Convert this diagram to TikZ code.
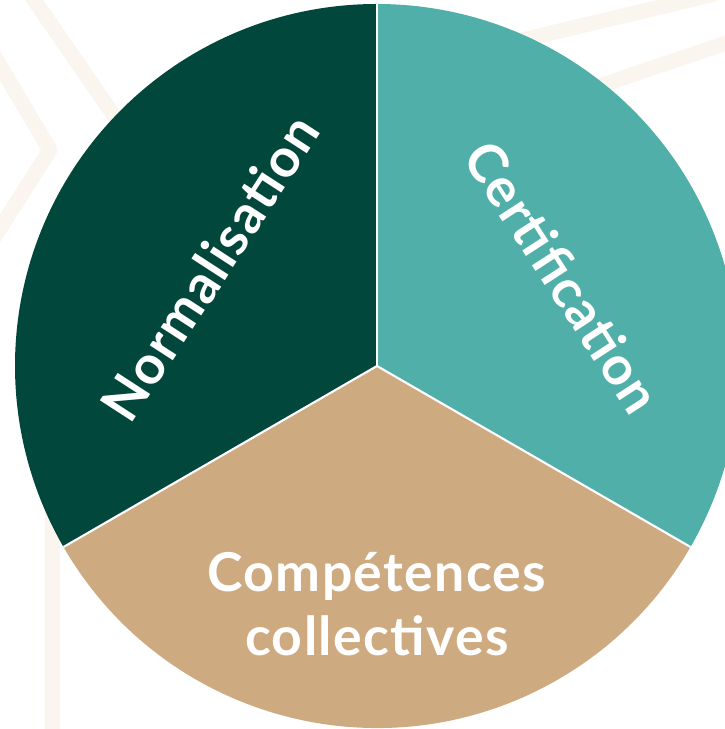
\documentclass[tikz,border=0pt]{standalone}
\usepackage{fontspec}
\setmainfont[LetterSpace=2.5]{Lato}
\usetikzlibrary{positioning}

\definecolor{normgreen}{HTML}{02473C}
\definecolor{certteal}{HTML}{50AFA9}
\definecolor{compsand}{HTML}{CEAA80}
\definecolor{decobeige}{HTML}{FAF5EF}

\tikzset{
    sectorlabel/.style={text=white, font=\bfseries\fontsize{30.5}{36}\selectfont, align=center, inner sep=0pt},
    sectorsep/.style={draw=white, line width=1.2pt},
    decoband/.style={draw=decobeige, line width=0.3cm, line join=round}
}

\begin{document}
\begin{tikzpicture}
    \clip (0, 0) rectangle (14.5, 14.58);
    \fill[white] (0, 0) rectangle (14.5, 14.58);

    % faint background bands
    \draw[decoband] (-0.2, 13.6) -- (1.0, 11.58) -- (-0.2, 9.7);
    \draw[decoband] (0.6, 14.7) -- (2.2, 12.38) -- (3.0, 11.2);
    \draw[decoband] (1.04, -0.2) -- (1.04, 6.0);
    \draw[decoband] (9.0, 13.44) -- (13.8, 14.58) -- (14.3, 14.7);
    \draw[decoband] (10.4, 12.32) -- (14.7, 13.78);

    % pie
    \coordinate (c) at (7.54, 7.26);
    \coordinate (top) at ([shift={(90:7.24)}]c);
    \coordinate (lowleft) at ([shift={(210:7.24)}]c);
    \coordinate (lowright) at ([shift={(330:7.24)}]c);

    \fill[normgreen] (c) -- (top) arc (90:210:7.24) -- cycle;
    \fill[compsand] (c) -- (lowleft) arc (210:330:7.24) -- cycle;
    \fill[certteal] (c) -- (lowright) arc (-30:90:7.24) -- cycle;

    \draw[sectorsep] (c) -- (top);
    \draw[sectorsep] (c) -- (lowleft);
    \draw[sectorsep] (c) -- (lowright);

    % labels
    \node[sectorlabel, rotate=57] (norm) at (4.2, 9.22) {Normalisation};
    \node[sectorlabel, rotate=-57] (cert) at (11.26, 9.04) {Certification};
    \node[sectorlabel] (comp) at (7.54, 2.5) {Compétences\\collectives};
\end{tikzpicture}
\end{document}
